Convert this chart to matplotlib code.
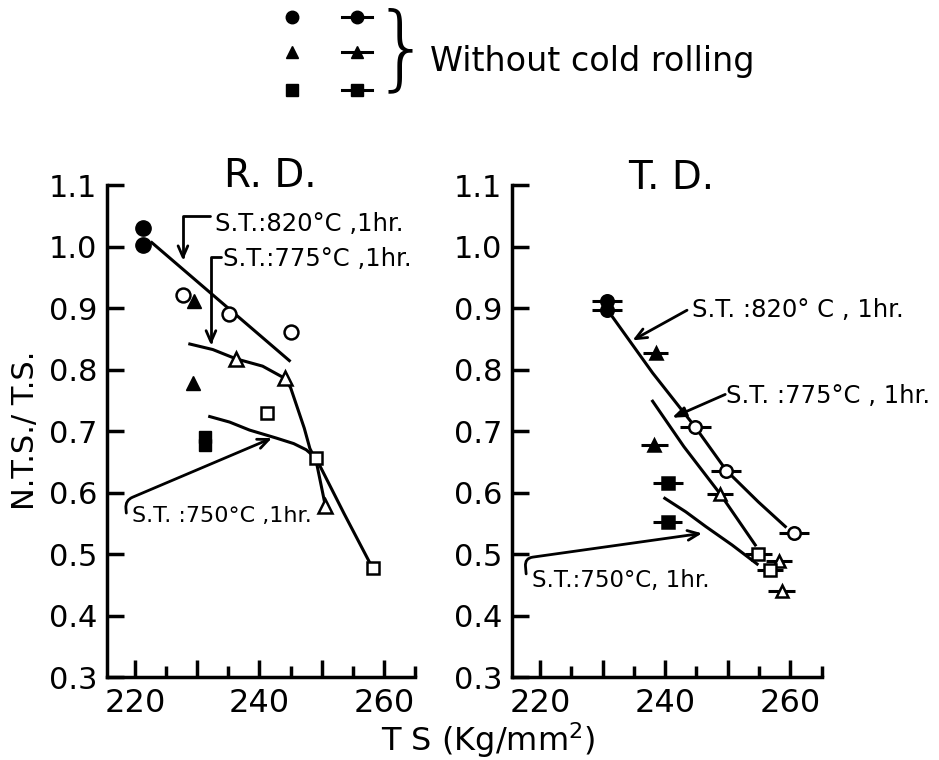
import matplotlib.pyplot as plt
from matplotlib.ticker import MultipleLocator, FixedFormatter, FixedLocator

# R.D. panel points
rd_fc_x = [221.2, 221.2]
rd_fc_y = [1.030, 1.003]
rd_oc_x = [227.7, 235.1, 245.1]
rd_oc_y = [0.922, 0.891, 0.862]
rd_ft_x = [229.4, 229.3]
rd_ft_y = [0.912, 0.778]
rd_ot_x = [236.2, 244.1, 250.6]
rd_ot_y = [0.818, 0.786, 0.578]
rd_fs_x = [231.3, 231.3]
rd_fs_y = [0.690, 0.678]
rd_os_x = [241.2, 249.1, 258.2]
rd_os_y = [0.729, 0.656, 0.477]

# R.D. hand drawn curves
rd_c820_x = [222.7, 244.8]
rd_c820_y = [1.007, 0.815]
rd_c775_x = [228.8, 232.5, 236.2, 240.5, 244.1, 245.0, 246.2, 247.2, 248.1, 249.1, 250.6]
rd_c775_y = [0.842, 0.833, 0.818, 0.806, 0.786, 0.771, 0.735, 0.705, 0.672, 0.652, 0.578]
rd_c750_x = [232.0, 235.2, 238.4, 242.7, 245.5, 247.5, 249.1, 253.6, 258.2]
rd_c750_y = [0.724, 0.715, 0.702, 0.689, 0.680, 0.670, 0.656, 0.566, 0.477]

# T.D. panel points (with horizontal scatter bars)
td_fc_x = [230.7, 230.7]
td_fc_y = [0.912, 0.898]
td_fc_e = [2.4, 2.4]
td_ft_x = [238.5, 238.3]
td_ft_y = [0.827, 0.678]
td_ft_e = [2.0, 2.1]
td_fs_x = [240.4, 240.4]
td_fs_y = [0.616, 0.552]
td_fs_e = [2.4, 2.3]
td_oc_x = [244.8, 249.8, 260.6]
td_oc_y = [0.707, 0.636, 0.534]
td_oc_e = [2.5, 2.4, 2.4]
td_ot_x = [248.8, 258.2, 258.6]
td_ot_y = [0.598, 0.489, 0.440]
td_ot_e = [2.1, 2.1, 2.2]
td_os_x = [254.9, 256.8]
td_os_y = [0.501, 0.474]
td_os_e = [2.1, 2.1]

# T.D. curves
td_c820_x = [231.6, 238.0, 244.8, 249.8, 254.9, 259.2]
td_c820_y = [0.886, 0.795, 0.707, 0.636, 0.585, 0.545]
td_c775_x = [238.0, 243.0, 248.8, 254.4]
td_c775_y = [0.749, 0.675, 0.598, 0.515]
td_c750_x = [239.95, 243.3, 246.5, 250.7, 254.7]
td_c750_y = [0.591, 0.569, 0.545, 0.515, 0.484]

yticks = [0.3, 0.4, 0.5, 0.6, 0.7, 0.8, 0.9, 1.0, 1.1]
xticks = [220, 240, 260]

plt.rcParams['font.family'] = 'DejaVu Sans'
fig = plt.figure(figsize=(9.39, 7.6), dpi=100)
ax1 = fig.add_axes([0.114, 0.109, 0.328, 0.647])
ax2 = fig.add_axes([0.545, 0.109, 0.330, 0.647])

lw = 2.2
ms = 10
mew = 1.8


def style(ax):
    ax.set_xlim(215.5, 265)
    ax.set_ylim(0.3, 1.1)
    for s in ['top', 'right']:
        ax.spines[s].set_visible(False)
    for s in ['left', 'bottom']:
        ax.spines[s].set_linewidth(2.5)
    ax.xaxis.set_major_locator(MultipleLocator(10))
    ax.xaxis.set_minor_locator(MultipleLocator(5))
    ax.xaxis.set_major_formatter(plt.FuncFormatter(lambda v, p: "%d" % v if v in xticks else ""))
    ax.yaxis.set_major_locator(FixedLocator(yticks))
    ax.yaxis.set_major_formatter(FixedFormatter(["%.1f" % v for v in yticks]))
    ax.tick_params(which='major', direction='in', length=12, width=2.5, labelsize=22, pad=7)
    ax.tick_params(axis='x', which='major', labelsize=23, pad=8)
    ax.tick_params(which='minor', direction='in', length=8, width=2.5)


style(ax1)
style(ax2)

# R.D.
for cx, cy in [(rd_c820_x, rd_c820_y), (rd_c775_x, rd_c775_y), (rd_c750_x, rd_c750_y)]:
    ax1.plot(cx, cy, color='k', lw=lw, zorder=2)
ax1.plot(rd_fc_x, rd_fc_y, 'o', color='k', ms=ms + 1, zorder=3)
ax1.plot(rd_oc_x, rd_oc_y, 'o', mfc='white', mec='k', mew=mew, ms=ms, zorder=3)
ax1.plot(rd_ft_x, rd_ft_y, '^', color='k', ms=ms, zorder=3)
ax1.plot(rd_ot_x, rd_ot_y, '^', mfc='white', mec='k', mew=mew, ms=ms, zorder=3)
ax1.plot(rd_fs_x, rd_fs_y, 's', color='k', ms=ms - 1, zorder=3)
ax1.plot(rd_os_x, rd_os_y, 's', mfc='white', mec='k', mew=mew, ms=ms - 1, zorder=3)

# T.D.
for cx, cy in [(td_c820_x, td_c820_y), (td_c775_x, td_c775_y), (td_c750_x, td_c750_y)]:
    ax2.plot(cx, cy, color='k', lw=lw, zorder=2)
for px, py, pe, m, filled in [(td_fc_x, td_fc_y, td_fc_e, 'o', True),
                              (td_ft_x, td_ft_y, td_ft_e, '^', True),
                              (td_fs_x, td_fs_y, td_fs_e, 's', True),
                              (td_oc_x, td_oc_y, td_oc_e, 'o', False),
                              (td_ot_x, td_ot_y, td_ot_e, '^', False),
                              (td_os_x, td_os_y, td_os_e, 's', False)]:
    ax2.errorbar(px, py, xerr=pe, fmt=m, ecolor='k', elinewidth=2.2, capsize=0,
                 mfc='k' if filled else 'white', mec='k', mew=mew, ms=ms - 1, zorder=3)

txt = dict(fontsize=17.5, va='center', ha='left')
arrow_open = dict(arrowstyle='->,head_length=0.8,head_width=0.35', lw=2, color='k', shrinkA=0, shrinkB=0)

# R.D. labels
ax1.text(232.8, 1.038, "S.T.:820°C ,1hr.", **txt)
ax1.annotate('', xy=(227.7, 0.978), xytext=(232.0, 1.05),
             arrowprops=dict(connectionstyle='angle,angleA=0,angleB=90,rad=0', **arrow_open))
ax1.text(234.1, 0.981, "S.T.:775°C ,1hr.", **txt)
ax1.annotate('', xy=(232.2, 0.840), xytext=(233.8, 0.984),
             arrowprops=dict(connectionstyle='angle,angleA=0,angleB=90,rad=0', **arrow_open))
ax1.text(219.5, 0.562, "S.T. :750°C ,1hr.", fontsize=16, va='center', ha='left')
ax1.annotate('', xy=(242.0, 0.689), xytext=(218.6, 0.567),
             arrowprops=dict(connectionstyle='angle,angleA=95,angleB=23,rad=8', **arrow_open))

# T.D. labels
ax2.text(244.3, 0.897, "S.T. :820° C , 1hr.", **txt)
ax2.annotate('', xy=(234.8, 0.848), xytext=(243.5, 0.897), arrowprops=arrow_open)
ax2.text(249.7, 0.758, "S.T. :775°C , 1hr.", **txt)
ax2.annotate('', xy=(241.1, 0.722), xytext=(249.6, 0.760),
             arrowprops=dict(arrowstyle='-|>,head_length=0.8,head_width=0.3', lw=2, color='k',
                             shrinkA=0, shrinkB=0))
ax2.text(218.7, 0.457, "S.T.:750°C, 1hr.", fontsize=16.5, va='center', ha='left')
ax2.annotate('', xy=(245.9, 0.534), xytext=(217.8, 0.468),
             arrowprops=dict(connectionstyle='angle,angleA=95,angleB=8,rad=8', **arrow_open))

ax1.text(0.53, 1.02, "R. D.", transform=ax1.transAxes, fontsize=28, ha='center', va='center')
ax2.text(0.516, 1.015, "T. D.", transform=ax2.transAxes, fontsize=28, ha='center', va='center')

fig.text(0.027, 0.434, "N.T.S./ T.S.", rotation=90, fontsize=22, ha='center', va='center')
fig.text(0.52, 0.026, "T S (Kg/mm$^2$)", fontsize=23, ha='center', va='center')

# legend at top, in pixel space
leg = fig.add_axes([0, 0, 1, 1], zorder=-1)
leg.set_xlim(0, 939)
leg.set_ylim(760, 0)
leg.axis('off')
for yy, m in [(17, 'o'), (52, '^'), (90, 's')]:
    leg.plot([292], [yy], m, color='k', ms=ms - 1)
    leg.plot([342, 372], [yy, yy], color='k', lw=2.2)
    leg.plot([357], [yy], m, color='k', ms=ms - 1)
leg.text(402, 52, "}", fontsize=66, ha='center', va='center', fontweight='light')
leg.text(430, 62, "Without cold rolling", fontsize=24, ha='left', va='center')

plt.savefig("out.png", dpi=100)
